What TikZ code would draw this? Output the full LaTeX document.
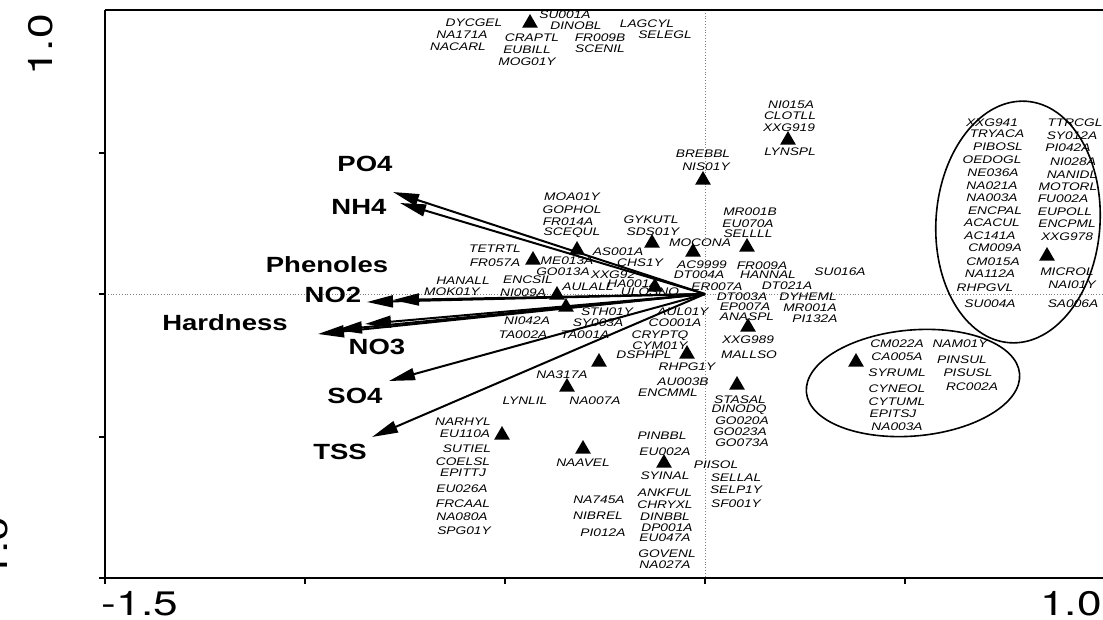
\documentclass[tikz,border=0pt]{standalone}
\usepackage{fontspec}
\newfontfamily\labf[FakeStretch=1.25]{Liberation Sans}
\newfontfamily\numf{TeX Gyre Heros}
\usetikzlibrary{arrows.meta,shapes.geometric}
\begin{document}
\begin{tikzpicture}[x=1pt,y=-1pt,
 lab/.style={font=\labf\itshape\fontsize{11}{11}\selectfont, inner sep=0pt},
 var/.style={font=\labf\bfseries\fontsize{22}{22}\selectfont, inner sep=0pt},
 num/.style={font=\numf\fontsize{34}{34}\selectfont, inner sep=0pt, xscale=1.3},
 tri/.style={regular polygon, regular polygon sides=3, fill=black, inner sep=0pt, minimum size=18pt},
 vec/.style={line width=2pt, -{Triangle[length=26pt,width=12pt]}},
 axis/.style={line width=2pt},
 zero/.style={gray, dotted, line width=0.8pt},
 grp/.style={line width=1.6pt}]
\useasboundingbox (0,0) rectangle (1103,619);
% frame and axes
\draw[zero] (105,294) -- (1103,294);
\draw[zero] (705,10) -- (705,578);
\draw[line width=1.5pt] (105,10) -- (1103,10);
\draw[axis] (105,10) -- (105,578);
\draw[axis] (99,578) -- (1103,578);
\foreach \yy in {153,294,437} \draw[axis] (99,\yy) -- (105,\yy);
\foreach \xx in {105,305,505,705,905} \draw[axis] (\xx,578) -- (\xx,584);
\node[num] (xmin) at (140,604) {-1.5};
\node[num] (xmax) at (1071,604) {1.0};
\node[rotate=90, num, anchor=base] (ymax) at (52,45) {1.0};
\node[rotate=90, num, anchor=base] (ymin) at (8,555) {-1.0};
% groups
\coordinate (rc) at (1018,222);
\coordinate (lc) at (913,383);
\draw[grp, rotate around={-4:(rc)}] (rc) ellipse [x radius=82, y radius=121];
\draw[grp, rotate around={5:(lc)}] (lc) ellipse [x radius=107, y radius=53];
% triangles
\foreach \px/\py [count=\i] in {530/23, 788/140, 703/180, 577/250, 652/243, 693/252, 747/247, 533/260, 557/295, 655/287, 566/307, 687/354, 748/327, 599/362, 567/387, 737/385, 502/435, 583/449, 664/463, 856/362, 1047/256}
  \node[tri] (t\i) at (\px,\py) {};
% top group
\node[lab] (dycgel) at (474,23) {DYCGEL};
\node[lab] (na171a) at (462,35) {NA171A};
\node[lab] (nacarl) at (458,47) {NACARL};
\node[lab] (craptl) at (532,38) {CRAPTL};
\node[lab] (eubill) at (527,50) {EUBILL};
\node[lab] (mog01y) at (527,62) {MOG01Y};
\node[lab] (su001a) at (565,15) {SU001A};
\node[lab] (dinobl) at (576,26) {DINOBL};
\node[lab] (fr009b) at (600,38) {FR009B};
\node[lab] (scenil) at (600,49) {SCENIL};
\node[lab] (lagcyl) at (647,24) {LAGCYL};
\node[lab] (selegl) at (665,35) {SELEGL};
% upper middle
\node[lab] (ni015a) at (791,105) {NI015A};
\node[lab] (clotll) at (790,116) {CLOTLL};
\node[lab] (xxg919) at (789,128) {XXG919};
\node[lab] (lynspl) at (790,152) {LYNSPL};
\node[lab] (brebbl) at (703,154) {BREBBL};
\node[lab] (nis01y) at (706,167) {NIS01Y};
\node[lab] (moa01y) at (572,197) {MOA01Y};
\node[lab] (gophol) at (572,210) {GOPHOL};
\node[lab] (fr014a) at (568,222) {FR014A};
\node[lab] (scequl) at (572,233) {SCEQUL};
\node[lab] (gykutl) at (651,220) {GYKUTL};
\node[lab] (sds01y) at (653,232) {SDS01Y};
\node[lab] (mocona) at (700,243) {MOCONA};
\node[lab] (mr001b) at (750,212) {MR001B};
\node[lab] (eu070a) at (748,224) {EU070A};
\node[lab] (sellll) at (748,234) {SELLLL};
\node[lab] (tetrtl) at (495,249) {TETRTL};
\node[lab] (fr057a) at (495,263) {FR057A};
\node[lab] (as001a) at (618,252) {AS001A};
\node[lab] (me013a) at (567,261) {ME013A};
\node[lab] (chs1y) at (640,263) {CHS1Y};
\node[lab] (go013a) at (563,272) {GO013A};
\node[lab] (xxg92) at (613,275) {XXG92};
\node[lab] (ac9999) at (702,265) {AC9999};
\node[lab] (dt004a) at (699,275) {DT004A};
\node[lab] (er007a) at (717,287) {ER007A};
\node[lab] (fr009a) at (762,266) {FR009A};
\node[lab] (hannal) at (768,275) {HANNAL};
\node[lab] (dt021a) at (787,286) {DT021A};
\node[lab] (su016a) at (840,272) {SU016A};
\node[lab] (hanall) at (463,281) {HANALL};
\node[lab] (encsil) at (528,280) {ENCSIL};
\node[lab] (mok01y) at (452,292) {MOK01Y};
\node[lab] (ni009a) at (523,293) {NI009A};
\node[lab] (aulall) at (588,287) {AULALL};
\node[lab] (ha001a) at (633,284) {HA001A};
\node[lab] (ulosno) at (650,292) {ULOSNO};
\node[lab] (ni042a) at (527,321) {NI042A};
\node[lab] (sth01y) at (607,312) {STH01Y};
\node[lab] (sy003a) at (598,323) {SY003A};
\node[lab] (ta002a) at (523,335) {TA002A};
\node[lab] (ta001a) at (585,335) {TA001A};
\node[lab] (aul01y) at (683,312) {AUL01Y};
\node[lab] (co001a) at (675,323) {CO001A};
\node[lab] (cryptq) at (660,336) {CRYPTQ};
\node[lab] (cym01y) at (660,346) {CYM01Y};
\node[lab] (dsphpl) at (644,355) {DSPHPL};
\node[lab] (rhpg1y) at (687,367) {RHPG1Y};
\node[lab] (au003b) at (683,382) {AU003B};
\node[lab] (encmml) at (668,393) {ENCMML};
\node[lab] (dt003a) at (742,297) {DT003A};
\node[lab] (dyheml) at (808,297) {DYHEML};
\node[lab] (ep007a) at (745,307) {EP007A};
\node[lab] (mr001a) at (810,308) {MR001A};
\node[lab] (anaspl) at (747,317) {ANASPL};
\node[lab] (pi132a) at (815,319) {PI132A};
\node[lab] (xxg989) at (748,340) {XXG989};
\node[lab] (mallso) at (749,355) {MALLSO};
% lower middle
\node[lab] (na317a) at (562,375) {NA317A};
\node[lab] (lynlil) at (525,401) {LYNLIL};
\node[lab] (na007a) at (595,401) {NA007A};
\node[lab] (stasal) at (740,400) {STASAL};
\node[lab] (dinodq) at (739,410) {DINODQ};
\node[lab] (go020a) at (742,421) {GO020A};
\node[lab] (go023a) at (740,432) {GO023A};
\node[lab] (go073a) at (742,443) {GO073A};
\node[lab] (piisol) at (716,465) {PIISOL};
\node[lab] (sellal) at (736,478) {SELLAL};
\node[lab] (selp1y) at (736,490) {SELP1Y};
\node[lab] (sf001y) at (736,504) {SF001Y};
\node[lab] (narhyl) at (463,422) {NARHYL};
\node[lab] (eu110a) at (465,434) {EU110A};
\node[lab] (sutiel) at (467,449) {SUTIEL};
\node[lab] (coelsl) at (463,462) {COELSL};
\node[lab] (epittj) at (463,473) {EPITTJ};
\node[lab] (eu026a) at (462,489) {EU026A};
\node[lab] (frcaal) at (463,504) {FRCAAL};
\node[lab] (na080a) at (462,517) {NA080A};
\node[lab] (spg01y) at (464,531) {SPG01Y};
\node[lab] (naavel) at (583,463) {NAAVEL};
\node[lab] (na745a) at (599,500) {NA745A};
\node[lab] (nibrel) at (598,516) {NIBREL};
\node[lab] (pi012a) at (603,533) {PI012A};
\node[lab] (pinbbl) at (662,436) {PINBBL};
\node[lab] (eu002a) at (665,452) {EU002A};
\node[lab] (syinal) at (665,476) {SYINAL};
\node[lab] (ankful) at (665,493) {ANKFUL};
\node[lab] (chryxl) at (665,505) {CHRYXL};
\node[lab] (dinbbl) at (665,517) {DINBBL};
\node[lab] (dp001a) at (667,528) {DP001A};
\node[lab] (eu047a) at (665,538) {EU047A};
\node[lab] (govenl) at (667,554) {GOVENL};
\node[lab] (na027a) at (665,565) {NA027A};
% lower ellipse
\node[lab] (cm022a) at (897,344) {CM022A};
\node[lab] (ca005a) at (897,357) {CA005A};
\node[lab] (syruml) at (897,373) {SYRUML};
\node[lab] (cyneol) at (897,389) {CYNEOL};
\node[lab] (cytuml) at (897,402) {CYTUML};
\node[lab] (epitsj) at (893,414) {EPITSJ};
\node[lab] (na003b) at (897,427) {NA003A};
\node[lab] (nam01y) at (960,344) {NAM01Y};
\node[lab] (pinsul) at (962,360) {PINSUL};
\node[lab] (pisusl) at (968,373) {PISUSL};
\node[lab] (rc002a) at (972,387) {RC002A};
% right ellipse
\node[lab] (xxg941) at (992,123) {XXG941};
\node[lab] (tryaca) at (997,134) {TRYACA};
\node[lab] (pibosl) at (998,147) {PIBOSL};
\node[lab] (oedogl) at (992,160) {OEDOGL};
\node[lab] (ne036a) at (993,173) {NE036A};
\node[lab] (na021a) at (992,186) {NA021A};
\node[lab] (na003a) at (992,198) {NA003A};
\node[lab] (encpal) at (995,211) {ENCPAL};
\node[lab] (acacul) at (992,223) {ACACUL};
\node[lab] (ac141a) at (990,236) {AC141A};
\node[lab] (cm009a) at (995,248) {CM009A};
\node[lab] (cm015a) at (993,262) {CM015A};
\node[lab] (na112a) at (990,274) {NA112A};
\node[lab] (rhpgvl) at (985,288) {RHPGVL};
\node[lab] (su004a) at (990,304) {SU004A};
\node[lab] (ttrcgl) at (1075,123) {TTRCGL};
\node[lab] (sy012a) at (1072,136) {SY012A};
\node[lab] (pi042a) at (1068,148) {PI042A};
\node[lab] (ni028a) at (1073,162) {NI028A};
\node[lab] (nanidl) at (1072,175) {NANIDL};
\node[lab] (motorl) at (1068,187) {MOTORL};
\node[lab] (fu002a) at (1063,199) {FU002A};
\node[lab] (eupoll) at (1065,212) {EUPOLL};
\node[lab] (encpml) at (1067,224) {ENCPML};
\node[lab] (xxg978) at (1067,237) {XXG978};
\node[lab] (microl) at (1067,272) {MICROL};
\node[lab] (nai01y) at (1072,285) {NAI01Y};
\node[lab] (sa006a) at (1073,304) {SA006A};
% environmental vectors
\coordinate (o) at (705,294);
\coordinate (po4t) at (393,192);
\coordinate (nh4t) at (400,203);
\coordinate (phet) at (393,300);
\coordinate (no2t) at (367,302);
\coordinate (hart) at (318,334);
\coordinate (hbt) at (336,330);
\coordinate (no3t) at (365,324);
\coordinate (so4t) at (389,381);
\coordinate (tsst) at (372,437);
\foreach \tip in {po4t,nh4t,phet,no2t,hart,hbt,no3t,so4t,tsst}
  \draw[vec] (o) -- (\tip);
\node[var] (po4) at (365,164) {PO4};
\node[var] (nh4) at (359,207) {NH4};
\node[var] (phen) at (327,265) {Phenoles};
\node[var] (no2) at (333,295) {NO2};
\node[var] (hard) at (225,323) {Hardness};
\node[var] (no3) at (377,347) {NO3};
\node[var] (so4) at (355,396) {SO4};
\node[var] (tss) at (340,452) {TSS};
\end{tikzpicture}
\end{document}
